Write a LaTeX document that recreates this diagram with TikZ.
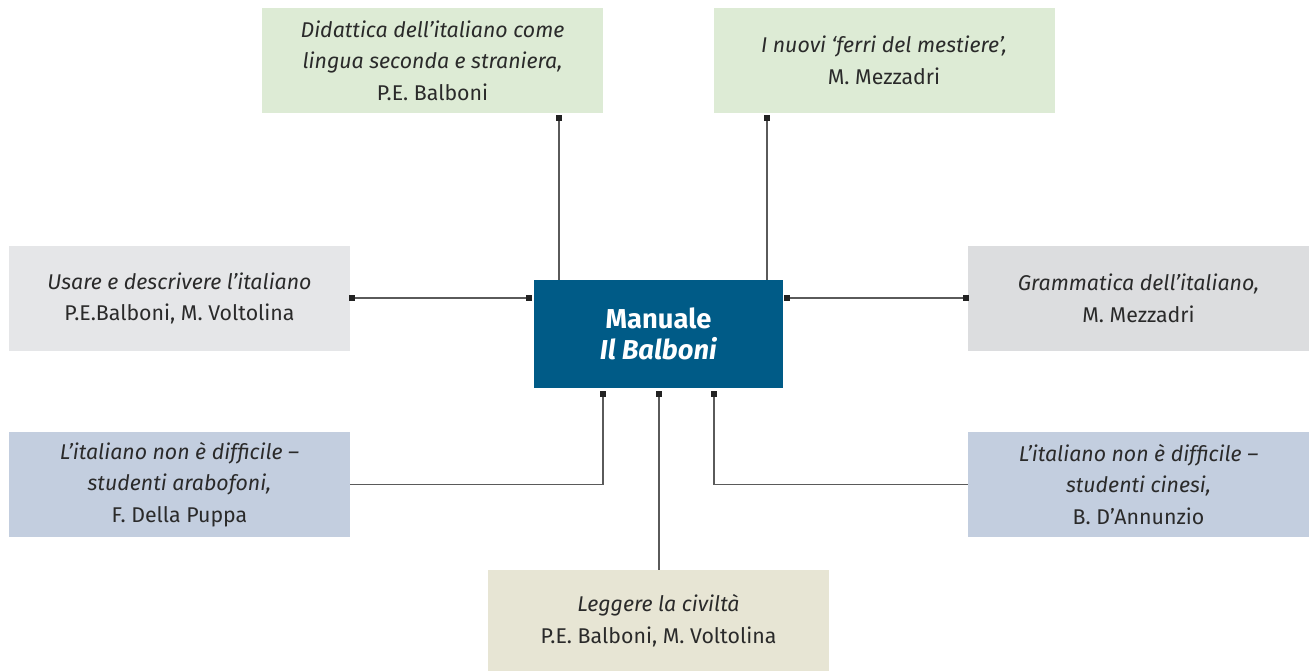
\documentclass[tikz,border=0pt]{standalone}
\usepackage{fontspec}
\setmainfont{Fira Sans}
\definecolor{greenbox}{HTML}{DDEBD5}
\definecolor{graybox}{HTML}{E5E6E8}
\definecolor{graybox2}{HTML}{DCDDDF}
\definecolor{bluebox}{HTML}{C3CEDF}
\definecolor{beigebox}{HTML}{E7E5D4}
\definecolor{mainblue}{HTML}{005B87}
\definecolor{txt}{HTML}{2A2A2A}
\definecolor{linec}{HTML}{5A5A5A}
\definecolor{sqc}{HTML}{222222}
\begin{document}
\begin{tikzpicture}[x=0.75pt,y=-0.75pt,
  book/.style={rectangle, inner sep=0pt, minimum width=255.75pt, minimum height=78.75pt,
    align=center, text=txt, font=\fontsize{16}{23.6}\selectfont},
  hub/.style={rectangle, fill=mainblue, inner sep=0pt, minimum width=186.75pt, minimum height=81pt,
    align=center, text=white, font=\fontsize{20.5}{23}\selectfont\bfseries},
  sq/.style={rectangle, fill=sqc, inner sep=0pt, minimum size=3.8pt},
  conn/.style={draw=linec, line width=1pt}
]
\useasboundingbox (0,0) rectangle (1309,671);
\node[book, fill=greenbox] (b1) at (432.5,60.5) {\textit{Didattica dell’italiano come}\\\textit{lingua seconda e straniera,}\\P.E. Balboni};
\node[book, fill=greenbox] (b2) at (884,60.5) {\textit{I nuovi ‘ferri del mestiere’,}\\M. Mezzadri};
\node[book, fill=graybox] (bl) at (179.5,298.5) {\textit{Usare e descrivere l’italiano}\\P.E.Balboni, M. Voltolina};
\node[book, fill=graybox2] (br) at (1138.5,298.5) {\textit{Grammatica dell’italiano,}\\M. Mezzadri};
\node[hub] (c) at (658.5,334) {Manuale\\\textit{Il Balboni}};
\node[book, fill=bluebox] (bbl) at (179.5,484.5) {\textit{L’italiano non è difficile –}\\\textit{studenti arabofoni,}\\F. Della Puppa};
\node[book, fill=bluebox] (bbr) at (1138.5,484.5) {\textit{L’italiano non è difficile –}\\\textit{studenti cinesi,}\\B. D’Annunzio};
\node[book, fill=beigebox, minimum height=75.75pt] (bot) at (658.5,620.5) {\textit{Leggere la civiltà}\\P.E. Balboni, M. Voltolina};

% squares
\node[sq] (s1) at (559,118) {};
\node[sq] (s2) at (767,118) {};
\node[sq] (s3) at (352,298) {};
\node[sq] (s4) at (529,298) {};
\node[sq] (s5) at (787,298) {};
\node[sq] (s6) at (966,298) {};
\node[sq] (s7) at (603,394) {};
\node[sq] (s8) at (659,394) {};
\node[sq] (s9) at (714,394) {};

% connectors
\draw[conn] (s1.center) -- (s1.center |- c.north);
\draw[conn] (s2.center) -- (s2.center |- c.north);
\draw[conn] (s3.center) -- (s4.center);
\draw[conn] (s5.center) -- (s6.center);
\draw[conn] (s7.center) |- (bbl.east);
\draw[conn] (s8.center) -- (s8.center |- bot.north);
\draw[conn] (s9.center) |- (bbr.west);
% redraw squares on top
\foreach \n in {s1,s2,s3,s4,s5,s6,s7,s8,s9} \fill[sqc] (\n.south west) rectangle (\n.north east);
\end{tikzpicture}
\end{document}
